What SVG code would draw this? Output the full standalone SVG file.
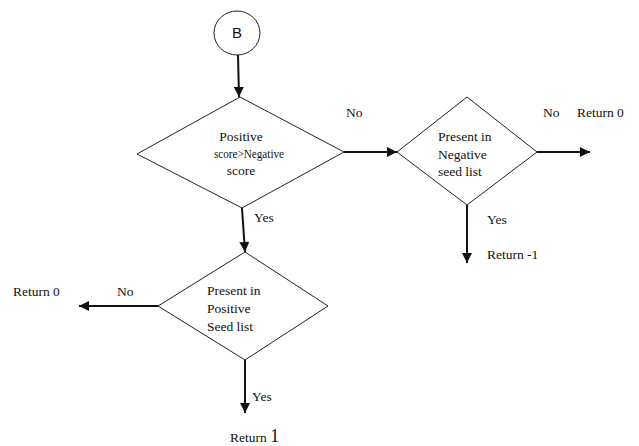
<svg xmlns="http://www.w3.org/2000/svg" width="639" height="446" viewBox="0 0 639 446">
<style>
.shape{fill:#fff;stroke:#222;stroke-width:1}
.conn{stroke:#111;stroke-width:2;fill:none;marker-end:url(#ah)}
text{font-family:"Liberation Serif","Times New Roman",serif;font-size:13.5px;fill:#111}
.c{text-anchor:middle}
</style>
<defs>
<marker id="ah" viewBox="0 0 10 10" refX="10" refY="5" markerWidth="5.5" markerHeight="5" orient="auto" markerUnits="strokeWidth">
<path d="M0,0 L10,5 L0,10 z" fill="#111"/>
</marker>
</defs>
<rect width="639" height="446" fill="#fff"/>
<g id="connectors">
<line class="conn" x1="238" y1="55" x2="239" y2="97"/>
<line class="conn" x1="344" y1="152" x2="397" y2="152"/>
<line class="conn" x1="537" y1="152" x2="590" y2="152"/>
<line class="conn" x1="467" y1="205" x2="467" y2="263"/>
<line class="conn" x1="242" y1="208" x2="245" y2="252"/>
<line class="conn" x1="158" y1="306" x2="79" y2="306"/>
<line class="conn" x1="245" y1="360" x2="245" y2="413"/>
<text x="346" y="117">No</text>
<text x="543" y="117">No</text>
<text x="577" y="117">Return  0</text>
<text x="487" y="224">Yes</text>
<text x="487" y="259">Return -1</text>
<text x="254" y="222">Yes</text>
<text x="117" y="296">No</text>
<text x="13" y="296">Return 0</text>
<text x="252" y="401">Yes</text>
<text x="230" y="442">Return <tspan style="font-size:18px">1</tspan></text>
</g>
<g id="nodeB">
<ellipse class="shape" cx="237" cy="33" rx="23" ry="22"/>
<text class="c" x="237" y="38" style="font-family:'Liberation Sans',Arial,sans-serif;font-size:15px">B</text>
</g>
<g id="decision1">
<polygon class="shape" points="240,97 344,152 242,208 137,154"/>
<text class="c" x="241" y="141">Positive</text>
<text x="214" y="158" textLength="70" lengthAdjust="spacingAndGlyphs">score&gt;Negative</text>
<text class="c" x="241" y="175">score</text>
</g>
<g id="decision2">
<polygon class="shape" points="467,97 537,152 467,205 397,152"/>
<text x="438" y="141">Present in</text>
<text x="438" y="159">Negative</text>
<text x="438" y="176">seed list</text>
</g>
<g id="decision3">
<polygon class="shape" points="245,252 328,306 245,360 158,306"/>
<text x="207" y="295">Present in</text>
<text x="207" y="313">Positive</text>
<text x="207" y="331">Seed list</text>
</g>
</svg>
